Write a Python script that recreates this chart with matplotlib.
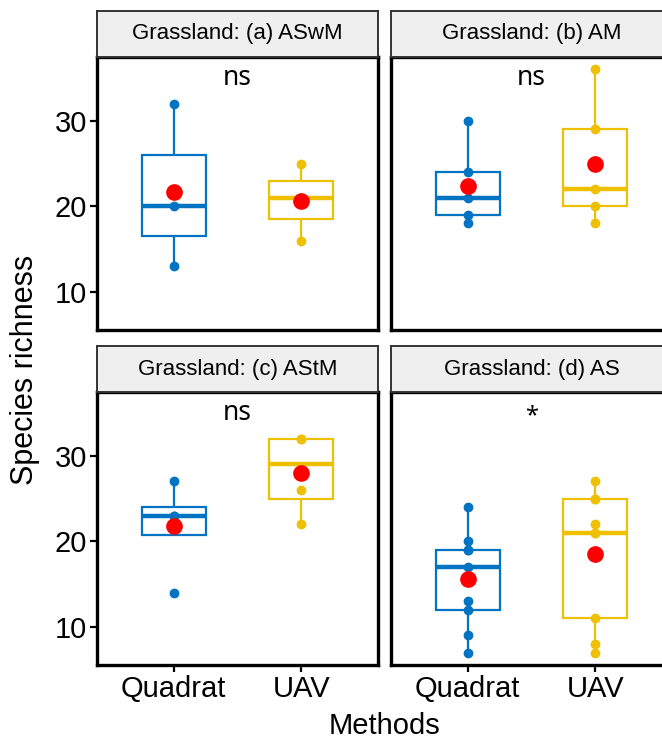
import numpy as np
import matplotlib
matplotlib.use("Agg")
import matplotlib.pyplot as plt

plt.rcParams['font.family'] = ['Liberation Sans', 'DejaVu Sans']

# --- data ---
methods = ["Quadrat", "UAV"]
titles = ["Grassland: (a) ASwM", "Grassland: (b) AM",
          "Grassland: (c) AStM", "Grassland: (d) AS"]
signif = ["ns", "ns", "ns", "*"]

quadrat_a = [13, 20, 32]
uav_a = [16, 21, 25]
quadrat_b = [18, 19, 21, 24, 30]
uav_b = [18, 20, 22, 29, 36]
quadrat_c = [14, 23, 23, 27]
uav_c = [22, 26, 32, 32]
quadrat_d = [7, 9, 12, 13, 17, 19, 19, 20, 24]
uav_d = [7, 8, 11, 21, 21, 22, 25, 25, 27]

panels = [
    (quadrat_a, uav_a),
    (quadrat_b, uav_b),
    (quadrat_c, uav_c),
    (quadrat_d, uav_d),
]

colors = ["#0073C2", "#EFC000"]

# --- layout (pixels of a 662x740 canvas) ---
W, H = 662, 740
fig = plt.figure(figsize=(W / 100, H / 100), dpi=100)

col_left = [97, 391]
panel_w = 281
row_top = [57, 392]
panel_h = 273
strip_h = 46

for i, (quad, uav) in enumerate(panels):
    r, c = divmod(i, 2)
    x0 = col_left[c] / W
    y0 = 1 - (row_top[r] + panel_h) / H
    ax = fig.add_axes([x0, y0, panel_w / W, panel_h / H])

    data = [quad, uav]
    for j, vals in enumerate(data):
        ax.boxplot([vals], positions=[j + 1], widths=0.5, patch_artist=True,
                   showfliers=False, showcaps=False,
                   boxprops=dict(facecolor="white", edgecolor=colors[j], linewidth=1.6, zorder=3),
                   whiskerprops=dict(color=colors[j], linewidth=1.6, zorder=2),
                   medianprops=dict(color=colors[j], linewidth=3.2, zorder=4))
        ax.plot([j + 1] * len(vals), vals, "o", color=colors[j], markersize=6, zorder=5)
        ax.plot([j + 1], [np.mean(vals)], "o", color="red", markersize=11, zorder=6)

    if signif[i] == "*":
        ax.text(1.5, 34.6, signif[i], ha="center", va="center", fontsize=17,
                family=["Noto Sans", "DejaVu Sans"])
    else:
        ax.text(1.5, 35, signif[i], ha="center", va="center", fontsize=19,
                family=["Noto Sans", "DejaVu Sans"])

    ax.set_xlim(0.4, 2.6)
    ax.set_ylim(5.55, 37.45)
    for s in ax.spines.values():
        s.set_linewidth(2.4)
        s.set_color("black")

    ax.set_yticks([10, 20, 30])
    ax.set_xticks([1, 2])
    ax.tick_params(axis="both", length=5, width=1.6, labelsize=21, pad=2)
    if c == 1:
        ax.tick_params(axis="y", left=False, labelleft=False)
    if r == 0:
        ax.tick_params(axis="x", bottom=False, labelbottom=False)
    else:
        ax.set_xticklabels(methods)

    # strip
    sax = fig.add_axes([x0, 1 - row_top[r] / H, panel_w / W, strip_h / H])
    sax.set_facecolor("#EFEFEF")
    sax.set_xticks([])
    sax.set_yticks([])
    for s in sax.spines.values():
        s.set_linewidth(1.4)
        s.set_color("#333333")
    sax.text(0.5, 0.5, titles[i], ha="center", va="center", fontsize=16,
             transform=sax.transAxes)

fig.text(25 / W, 1 - 370 / H, "Species richness", rotation=90, ha="center",
         va="center", fontsize=22)
fig.text(384 / W, 1 - 734 / H, "Methods", ha="center", va="baseline", fontsize=21)

fig.savefig("out.png", dpi=100)
